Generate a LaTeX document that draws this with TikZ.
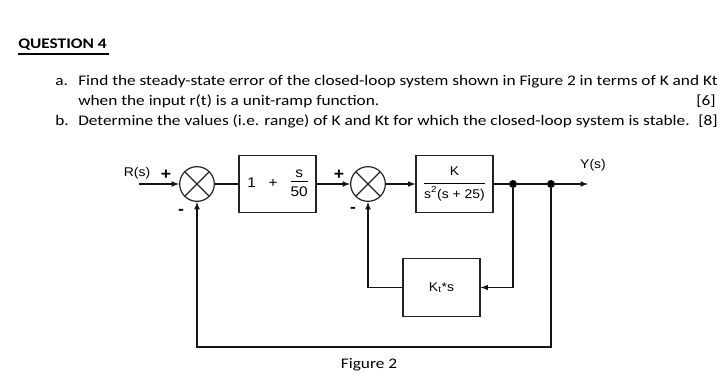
\documentclass[tikz,border=0pt]{standalone}
\usepackage{fontspec}
\setmainfont{Carlito}[FakeStretch=1.18]
\newfontfamily\diagfont{Liberation Sans}[FakeStretch=1.1]
\usetikzlibrary{shapes,arrows,positioning,calc}
\definecolor{bordercolor}{RGB}{35,35,35}
\definecolor{arrowcolor}{RGB}{20,20,20}
\tikzset{
    block/.style={
        rectangle,
        minimum width=57.75pt,
        minimum height=43pt,
        inner sep=1pt,
        text centered,
        draw=bordercolor,
        line width=0.9pt,
        font=\diagfont\fontsize{9.5}{11}\selectfont
    },
    sumnode/.style={
        circle,
        minimum size=26pt,
        inner sep=0pt,
        draw=bordercolor,
        line width=0.9pt,
        path picture={
            \draw[line width=0.9pt, bordercolor]
                (path picture bounding box.north west) -- (path picture bounding box.south east)
                (path picture bounding box.south west) -- (path picture bounding box.north east);
        }
    },
    junction/.style={circle, fill=black, inner sep=0pt, minimum size=6pt},
    lbl/.style={font=\diagfont\fontsize{9.5}{11}\selectfont, inner sep=0pt},
    sign/.style={font=\diagfont\fontsize{12}{12}\selectfont\bfseries, inner sep=0pt},
    qtext/.style={font=\fontsize{11}{13}\selectfont, inner sep=0pt, anchor=base west},
    line/.style={line width=0.9pt, color=arrowcolor},
    arrow/.style={->, >=latex, line width=0.9pt, color=arrowcolor}
}

\begin{document}
\begin{tikzpicture}[x=0.75pt, y=-0.75pt]
    \useasboundingbox (0,0) rectangle (725,378);

    % Question text
    \node[qtext] (title) at (18,49) {\textbf{QUESTION 4}};
    \coordinate (ulA) at (18,54);
    \coordinate (ulB) at (109,54);
    \draw[line width=1.1pt, black] (ulA) -- (ulB);
    \node[qtext] (la) at (55,86) {a.};
    \node[qtext] (qa1) at (78,86) {Find the steady-state error of the closed-loop system shown in Figure 2 in terms of K and Kt};
    \node[qtext] (qa2) at (78,106) {when the input r(t) is a unit-ramp function.};
    \node[qtext, anchor=base east] (ma) at (716,106) {[6]};
    \node[qtext] (lb) at (55,126) {b.};
    \node[qtext] (qb) at (78,126) {Determine the values (i.e. range) of K and Kt for which the closed-loop system is stable.};
    \node[qtext, anchor=base east] (mb) at (718,126) {[8]};

    % Forward path
    \coordinate (rin) at (139,184);
    \node[lbl] (rlabel) at (137,173) {R(s)};
    \node[sumnode] (sum1) at (197,184) {};
    \node[block, font=\diagfont\fontsize{10.5}{12}\selectfont] (comp) at (277.5,184)
          {1\ \ \ +\ \ \ \begin{tabular}{@{}c@{}}s\\[-1pt]\hline\rule{0pt}{11pt}50\end{tabular}};
    \node[sumnode] (sum2) at (368,184) {};
    \node[block] (plant) at (454.5,184)
          {\begin{tabular}{@{}c@{}}K\\[2pt]\hline\rule{0pt}{11pt}s\textsuperscript{2}(s + 25)\end{tabular}};
    \node[junction] (dotA) at (513,184) {};
    \node[junction] (dotB) at (551,184) {};
    \coordinate (yout) at (588,184);
    \node[lbl] (ylabel) at (593,165) {Y(s)};

    % Feedback path
    \node[block] (tach) at (441.5,287.5) {K\textsubscript{t}*s};
    \coordinate (botL) at (197,347);

    % Signs
    \node[sign] (p1) at (166,175) {+};
    \node[sign] (m1) at (181,212) {-};
    \node[sign] (p2) at (339,175) {+};
    \node[sign] (m2) at (353,210) {-};

    % Arrows
    \draw[arrow] (rin) -- (sum1);
    \draw[line] (sum1) -- (comp);
    \draw[arrow] (comp) -- (sum2);
    \draw[arrow] (sum2) -- (plant);
    \draw[line] (plant) -- (dotA);
    \draw[line] (dotA) -- (dotB);
    \draw[arrow] (dotB) -- (yout);
    \draw[arrow] (dotA) |- (tach.east);
    \draw[arrow] (tach.west) -| (sum2.south);
    \draw[arrow] (dotB) |- (botL) -- (sum1.south);

    % Caption
    \node[font=\fontsize{11}{13}\selectfont] (caption) at (369,365) {Figure 2};
\end{tikzpicture}
\end{document}
